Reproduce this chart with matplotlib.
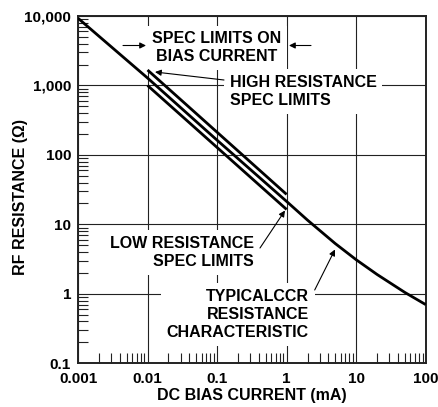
import matplotlib
matplotlib.use("Agg")
import matplotlib.pyplot as plt
from matplotlib.ticker import FixedLocator, FixedFormatter, LogLocator, NullFormatter

# ---- data ----
current_typ = [0.001, 0.01, 0.1, 1, 2, 5, 10, 20, 50, 100]          # mA
r_typ = [9300, 1280, 163, 21.4, 11.5, 5.3, 3.1, 1.9, 1.05, 0.70]   # ohm

current_lim = [0.01, 1]
r_high = [1670, 27]
r_low = [1000, 16.4]

x_ticks = [0.001, 0.01, 0.1, 1, 10, 100]
x_labels = ["0.001", "0.01", "0.1", "1", "10", "100"]
y_ticks = [0.1, 1, 10, 100, 1000, 10000]
y_labels = ["0.1", "1", "10", "100", "1,000", "10,000"]

plt.rcParams['font.family'] = ['Liberation Sans', 'DejaVu Sans']
plt.rcParams['font.weight'] = 'bold'

FS = 11.5
W, H = 438, 407
fig = plt.figure(figsize=(W / 100, H / 100), dpi=100)
L, R, T, B = 78, 425.7, 16, 363.3
ax = fig.add_axes([L / W, 1 - B / H, (R - L) / W, (B - T) / H])


def px(x, y):
    """pixel position in figure -> axes fraction"""
    return ((x - L) / (R - L), (B - y) / (B - T))


ax.set_xscale('log')
ax.set_yscale('log')
ax.set_xlim(0.001, 100)
ax.set_ylim(0.1, 10000)

lw_curve = 2.0
ax.plot(current_typ, r_typ, color='black', lw=lw_curve, zorder=4, solid_capstyle='butt')
ax.plot(current_lim, r_high, color='black', lw=lw_curve, zorder=4, solid_capstyle='butt')
ax.plot(current_lim, r_low, color='black', lw=lw_curve, zorder=4, solid_capstyle='butt')

# ticks
ax.xaxis.set_major_locator(FixedLocator(x_ticks))
ax.xaxis.set_major_formatter(FixedFormatter(x_labels))
ax.yaxis.set_major_locator(FixedLocator(y_ticks))
ax.yaxis.set_major_formatter(FixedFormatter(y_labels))
ax.xaxis.set_minor_locator(LogLocator(base=10, subs=range(2, 10), numticks=20))
ax.yaxis.set_minor_locator(LogLocator(base=10, subs=range(2, 10), numticks=20))
ax.xaxis.set_minor_formatter(NullFormatter())
ax.yaxis.set_minor_formatter(NullFormatter())
ax.tick_params(which='major', length=0, pad=5, labelsize=11)
ax.tick_params(which='minor', direction='in', length=7.5, width=0.8, color='#222')
ax.tick_params(axis='x', which='major', pad=6)
for lab in ax.get_xticklabels() + ax.get_yticklabels():
    lab.set_fontweight('bold')

ax.grid(True, which='major', color='#222', lw=0.8)
ax.set_axisbelow(True)
for s in ax.spines.values():
    s.set_linewidth(1.4)
    s.set_color('#222')

ax.set_xlabel('DC BIAS CURRENT (mA)', fontsize=FS, fontweight='bold', labelpad=2)
ax.set_ylabel('RF RESISTANCE (Ω)', fontsize=FS, fontweight='bold')
ax.yaxis.set_label_coords(*px(28, 197))

box = dict(facecolor='white', edgecolor='none', pad=4)
tk = dict(fontsize=FS, fontweight='bold', transform=ax.transAxes, zorder=3,
          va='center', linespacing=1.27, bbox=box)

ax.text(*px(217, 47.8), 'SPEC LIMITS ON\nBIAS CURRENT', ha='center', multialignment='center', **tk)
ax.text(*px(230, 91.5), 'HIGH RESISTANCE\nSPEC LIMITS', ha='left', multialignment='left', **tk)
ax.text(*px(254, 252.5), 'LOW RESISTANCE\nSPEC LIMITS', ha='right', multialignment='right', **tk)
ax.text(*px(309, 314.4), 'TYPICALCCR\nRESISTANCE\nCHARACTERISTIC', ha='right', multialignment='right', **tk)

ap = dict(arrowstyle='-|>', lw=0.8, color='black', mutation_scale=9, shrinkA=0, shrinkB=0)
arrows = [((123, 45.5), (146, 45.5)),
          ((311, 45.5), (289, 45.5)),
          ((224, 80), (155, 72)),
          ((260, 248), (285, 210.5)),
          ((314.7, 290), (335, 249.5))]
for (x0, y0), (x1, y1) in arrows:
    ax.annotate('', xy=px(x1, y1), xycoords='axes fraction',
                xytext=px(x0, y0), textcoords='axes fraction',
                arrowprops=ap, zorder=5)

fig.savefig('out.png', dpi=100)
